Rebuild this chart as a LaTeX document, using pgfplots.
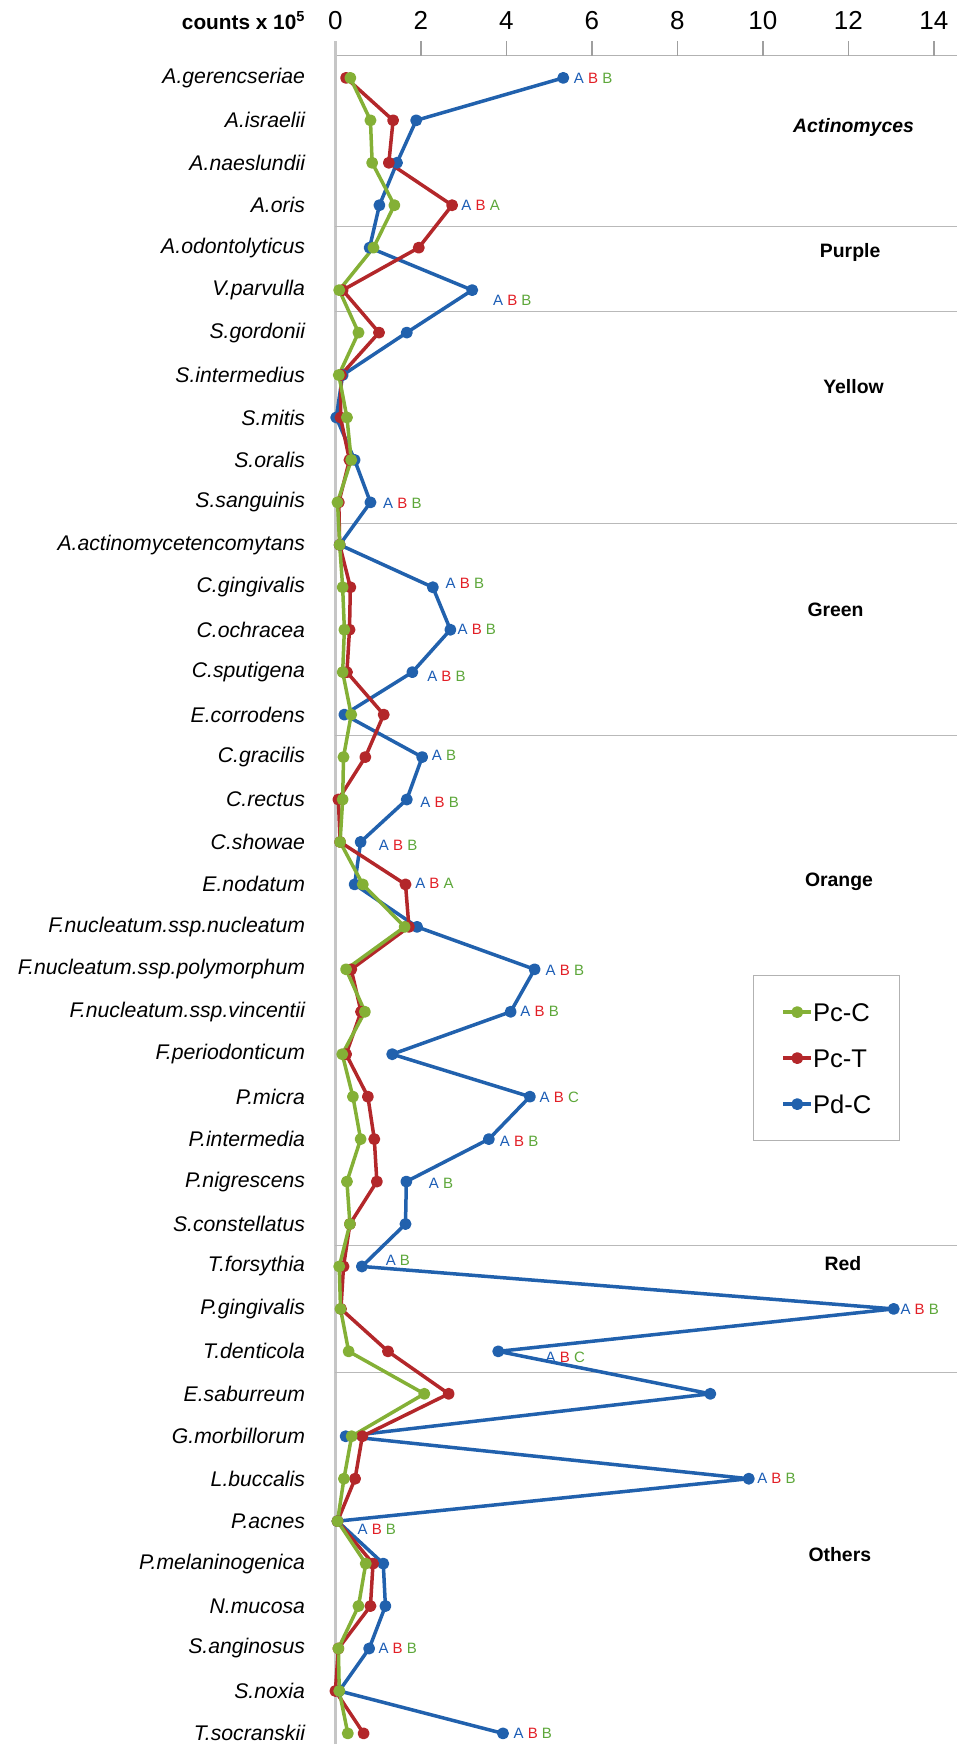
\documentclass[border=0pt]{standalone}
\usepackage{fontspec}
\setmainfont{Liberation Sans}
\usepackage{pgfplots}
\usepackage{pgfplotstable}
\pgfplotsset{compat=1.18}
\definecolor{cgreen}{HTML}{84B036}
\definecolor{cred}{HTML}{B3272A}
\definecolor{cblue}{HTML}{2161AD}
\definecolor{lA}{HTML}{1C5DB5}
\definecolor{lB}{HTML}{E21F26}
\definecolor{lG}{HTML}{5DA73A}
\pgfplotstableread{
row pcc pct pdc
0 0.35 0.25 5.33
1 0.82 1.35 1.89
2 0.86 1.25 1.44
3 1.38 2.73 1.03
4 0.89 1.95 0.80
5 0.09 0.17 3.20
6 0.54 1.02 1.67
7 0.08 0.13 0.17
8 0.27 0.12 0.02
9 0.37 0.33 0.45
10 0.05 0.08 0.82
11 0.10 0.10 0.10
12 0.17 0.35 2.28
13 0.21 0.33 2.69
14 0.17 0.27 1.80
15 0.37 1.13 0.21
16 0.19 0.70 2.03
17 0.17 0.07 1.67
18 0.11 0.11 0.59
19 0.64 1.64 0.45
20 1.62 1.72 1.91
21 0.25 0.37 4.66
22 0.69 0.60 4.10
23 0.16 0.25 1.33
24 0.41 0.76 4.55
25 0.59 0.91 3.59
26 0.27 0.97 1.66
27 0.34 0.34 1.64
28 0.09 0.19 0.62
29 0.12 0.13 13.06
30 0.31 1.23 3.81
31 2.08 2.65 8.77
32 0.38 0.63 0.24
33 0.20 0.46 9.67
34 0.05 0.05 0.05
35 0.71 0.88 1.12
36 0.54 0.82 1.17
37 0.07 0.07 0.79
38 0.09 0.00 0.09
39 0.29 0.66 3.92
}\data
\newcommand{\ABB}{{\color{lA}A} {\color{lB}B} {\color{lG}B}}
\newcommand{\ABA}{{\color{lA}A} {\color{lB}B} {\color{lG}A}}
\newcommand{\ABC}{{\color{lA}A} {\color{lB}B} {\color{lG}C}}
\newcommand{\AB}{{\color{lA}A} {\color{lG}B}}
\begin{document}
\begin{tikzpicture}
\begin{axis}[
  scale only axis, width=311pt, height=844.2pt,
  xmin=0, xmax=14.55, ymin=-0.525, ymax=39.25, y dir=reverse,
  clip=false,
  axis line style={draw=none},
  xtick={0,2,...,14},
  xtick pos=right,
  xticklabel pos=right,
  tick align=outside,
  major tick length=7.5pt,
  xtick style={draw=none},
  xticklabel style={font=\fontsize{13}{13}\selectfont, inner sep=0pt, anchor=south, yshift=5.3pt},
  /pgf/number format/assume math mode=true,
  ytick={0,...,39},
  ytick style={draw=none},
  yticklabel style={font=\itshape\fontsize{10.6}{11}\selectfont, inner sep=0pt, anchor=east, xshift=-7.5pt},
  yticklabels={A.gerencseriae,A.israelii,A.naeslundii,A.oris,A.odontolyticus,V.parvulla,S.gordonii,S.intermedius,S.mitis,S.oralis,S.sanguinis,A.actinomycetencomytans,C.gingivalis,C.ochracea,C.sputigena,E.corrodens,C.gracilis,C.rectus,C.showae,E.nodatum,F.nucleatum.ssp.nucleatum,F.nucleatum.ssp.polymorphum,F.nucleatum.ssp.vincentii,F.periodonticum,P.micra,P.intermedia,P.nigrescens,S.constellatus,T.forsythia,P.gingivalis,T.denticola,E.saburreum,G.morbillorum,L.buccalis,P.acnes,P.melaninogenica,N.mucosa,S.anginosus,S.noxia,T.socranskii},
  every axis plot/.append style={line width=1.75pt, line join=round, mark=*, mark size=2.1pt},
  reverse legend,
  legend cell align=left,
  legend image code/.code={\draw[#1, mark repeat=2, mark phase=2] plot coordinates {(0pt,0pt) (7pt,0pt) (14pt,0pt)};},
  legend style={at={(axis cs:9.77,21.13)}, anchor=north west, draw=gray!60, line width=0.5pt,
    font=\fontsize{12.8}{13}\selectfont, inner xsep=14pt, inner ysep=13.8pt, row sep=13.8pt,
    nodes={inner sep=0pt, text height=9.2pt, text depth=0pt}},
]
\draw[gray!60, line width=0.6pt] (axis cs:0,-0.525) -- (axis cs:14.55,-0.525);
\draw[gray!45, line width=1.3pt] (axis cs:0,-0.525) -- (axis cs:0,39.25);
% group separators
\draw[gray!55, line width=0.6pt] (axis cs:0,3.5) -- (axis cs:14.55,3.5);
\draw[gray!55, line width=0.6pt] (axis cs:0,5.5) -- (axis cs:14.55,5.5);
\draw[gray!55, line width=0.6pt] (axis cs:0,10.5) -- (axis cs:14.55,10.5);
\draw[gray!55, line width=0.6pt] (axis cs:0,15.5) -- (axis cs:14.55,15.5);
\draw[gray!55, line width=0.6pt] (axis cs:0,27.5) -- (axis cs:14.55,27.5);
\draw[gray!55, line width=0.6pt] (axis cs:0,30.5) -- (axis cs:14.55,30.5);
\addplot[cblue, mark options={fill=cblue}] table[x=pdc, y=row] {\data};
\addlegendentry{Pd-C\hspace{8pt}}
\addplot[cred, mark options={fill=cred}] table[x=pct, y=row] {\data};
\addlegendentry{Pc-T\hspace{8pt}}
\addplot[cgreen, mark options={fill=cgreen}] table[x=pcc, y=row] {\data};
\addlegendentry{Pc-C\hspace{8pt}}
% annotations
\begin{scope}[every node/.style={anchor=west, inner sep=0pt, font=\fontsize{7.5}{8}\selectfont}]
\node at (axis cs:5.57,0) {\ABB};
\node at (axis cs:2.94,3) {\ABA};
\node at (axis cs:3.68,5.23) {\ABB};
\node at (axis cs:1.11,10.02) {\ABB};
\node at (axis cs:2.57,11.9) {\ABB};
\node at (axis cs:2.85,12.98) {\ABB};
\node at (axis cs:2.14,14.09) {\ABB};
\node at (axis cs:2.25,15.95) {\AB};
\node at (axis cs:1.98,17.07) {\ABB};
\node at (axis cs:1.01,18.08) {\ABB};
\node at (axis cs:1.86,18.97) {\ABA};
\node at (axis cs:4.91,21.02) {\ABB};
\node at (axis cs:4.32,22) {\ABB};
\node at (axis cs:4.77,24.01) {\ABC};
\node at (axis cs:3.84,25.05) {\ABB};
\node at (axis cs:2.18,26.05) {\AB};
\node at (axis cs:1.17,27.85) {\AB};
\node at (axis cs:13.21,29) {\ABB};
\node at (axis cs:4.91,30.15) {\ABC};
\node at (axis cs:9.86,33) {\ABB};
\node at (axis cs:0.51,34.2) {\ABB};
\node at (axis cs:1.0,37) {\ABB};
\node at (axis cs:4.16,39) {\ABB};
\end{scope}
% group labels
\begin{scope}[every node/.style={anchor=center, inner sep=0pt, font=\bfseries\fontsize{9.7}{10}\selectfont}]
\node at (axis cs:12.12,1.18) {\itshape Actinomyces};
\node at (axis cs:12.04,4.12) {Purple};
\node at (axis cs:12.12,7.26) {Yellow};
\node at (axis cs:11.7,12.53) {Green};
\node at (axis cs:11.78,18.93) {Orange};
\node at (axis cs:11.87,27.92) {Red};
\node at (axis cs:11.8,34.78) {Others};
\end{scope}
\node[anchor=base east, inner sep=0pt, font=\bfseries\fontsize{10.4}{11}\selectfont] at (axis cs:-0.69,-1.15) {counts x 10\textsuperscript{5}};
\end{axis}
% tick marks above the top axis line (canvas coordinates of the axis box)
\draw[gray!75, line width=0.6pt]
  (42.75pt,844.2pt) -- (42.75pt,851.7pt)
  (85.5pt,844.2pt) -- (85.5pt,851.7pt)
  (128.25pt,844.2pt) -- (128.25pt,851.7pt)
  (171pt,844.2pt) -- (171pt,851.7pt)
  (213.75pt,844.2pt) -- (213.75pt,851.7pt)
  (256.5pt,844.2pt) -- (256.5pt,851.7pt)
  (299.25pt,844.2pt) -- (299.25pt,851.7pt);
\draw[gray!45, line width=1.3pt] (0pt,844.2pt) -- (0pt,851.7pt);
\pgfresetboundingbox
\path[use as bounding box] (-167.7pt,0pt) rectangle (311pt,872pt);
\end{tikzpicture}
\end{document}
